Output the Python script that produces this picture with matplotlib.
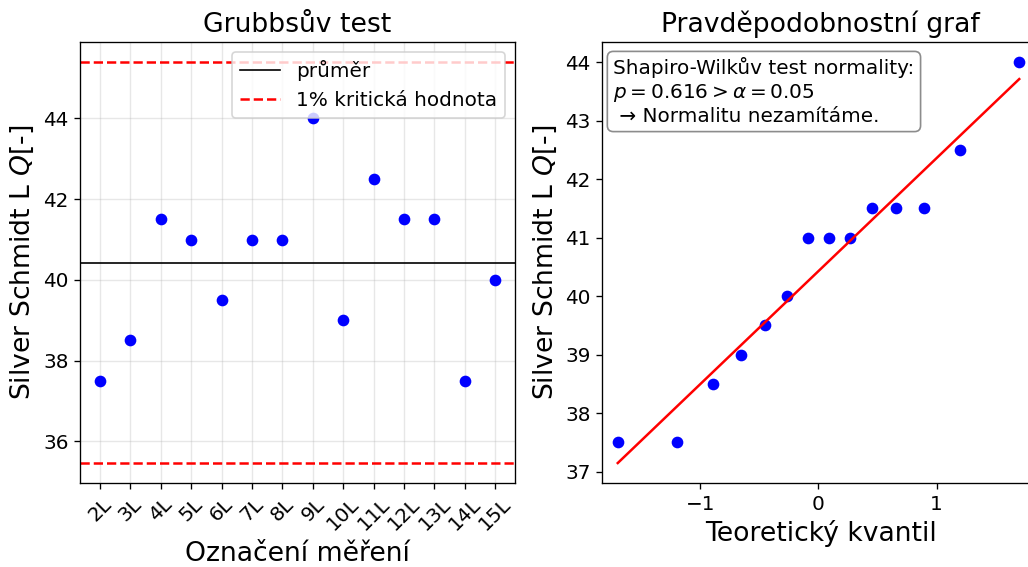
import matplotlib
matplotlib.use("Agg")
import matplotlib.pyplot as plt
import numpy as np

labels = ["2L", "3L", "4L", "5L", "6L", "7L", "8L", "9L", "10L", "11L", "12L", "13L", "14L", "15L"]
values = [37.5, 38.5, 41.5, 41.0, 39.5, 41.0, 41.0, 44.0, 39.0, 42.5, 41.5, 41.5, 37.5, 40.0]
crit = [35.46, 45.40]  # 1% Grubbs critical values
quantiles = [-1.70, -1.20, -0.89, -0.66, -0.45, -0.27, -0.09,
             0.09, 0.27, 0.45, 0.66, 0.89, 1.20, 1.70]

fig = plt.figure(figsize=(1028 / 120, 567 / 120), dpi=120)
ax1 = fig.add_axes([0.078, 0.148, 0.423, 0.778])
ax2 = fig.add_axes([0.586, 0.148, 0.425, 0.778])

ylabel = "Silver Schmidt L $Q$[-]"

# Grubbs test
x = np.arange(len(labels))
mean = np.mean(values)
ax1.plot(x, values, "o", color="blue", markersize=6)
ax1.axhline(mean, color="black", linewidth=1, label="průměr")
ax1.axhline(crit[1], color="red", linestyle="--", linewidth=1.5, label="1% kritická hodnota")
ax1.axhline(crit[0], color="red", linestyle="--", linewidth=1.5)
ax1.set_xticks(x)
ax1.set_xticklabels(labels, rotation=45, fontsize=12)
ax1.tick_params(axis="y", labelsize=12)
ax1.set_yticks([36, 38, 40, 42, 44])
ax1.grid(True, alpha=0.3)
ax1.set_title("Grubbsův test", fontsize=16)
ax1.set_xlabel("Označení měření", fontsize=16)
ax1.set_ylabel(ylabel, fontsize=16)
ax1.legend(loc="upper right", fontsize=12)

# probability plot
ordered = np.sort(values)
slope, intercept = np.polyfit(quantiles, ordered, 1)
q = np.array(quantiles)
ax2.plot(q, ordered, "o", color="blue", markersize=6)
ax2.plot(q, slope * q + intercept, "-", color="red", linewidth=1.5)
ax2.set_xlim(-1.83, 1.87)
ax2.set_xticks([-1, 0, 1])
ax2.tick_params(labelsize=12)
ax2.set_title("Pravděpodobnostní graf", fontsize=16)
ax2.set_xlabel("Teoretický kvantil", fontsize=16)
ax2.set_ylabel(ylabel, fontsize=16)
ax2.text(0.025, 0.965, "Shapiro-Wilkův test normality:\n$p = 0.616 > \\alpha = 0.05$\n → Normalitu nezamítáme.",
         transform=ax2.transAxes, fontsize=12, va="top", ha="left",
         bbox=dict(boxstyle="round", facecolor="white", edgecolor="gray", alpha=0.9))

fig.savefig("out.png", dpi=120)
